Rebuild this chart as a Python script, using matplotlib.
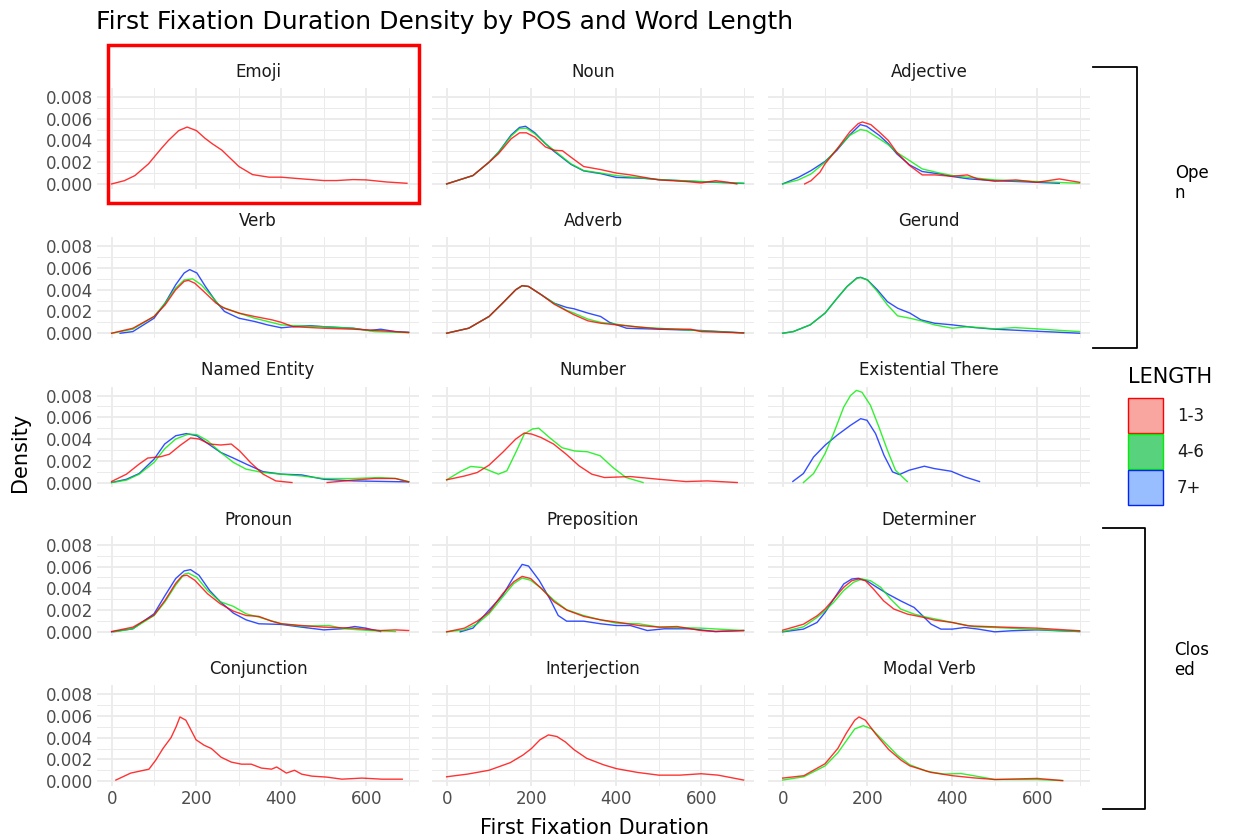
import numpy as np
import matplotlib.pyplot as plt
from matplotlib.lines import Line2D
from matplotlib.patches import Rectangle

plt.rcParams['font.family'] = ['DejaVu Sans']

# densities, y in units of 0.001
emoji = {
    "1-3": ([0, 30, 55, 87, 100, 118, 134, 158, 178, 200, 220, 237, 260, 277, 300, 332, 371, 400, 450, 500, 530, 569, 600, 648, 696],
            [0, 0.3, 0.77, 1.85, 2.46, 3.3, 4.0, 4.9, 5.23, 4.9, 4.2, 3.7, 3.1, 2.46, 1.6, 0.86, 0.62, 0.62, 0.46, 0.31, 0.31, 0.4, 0.37, 0.18, 0.06]),
}
noun = {
    "1-3": ([0, 62, 100, 122, 152, 172, 188, 208, 233, 253, 273, 293, 323, 363, 400, 433, 500, 564, 600, 634, 664, 684],
            [0, 0.77, 2.0, 2.77, 4.15, 4.7, 4.7, 4.3, 3.4, 3.1, 3.05, 2.46, 1.6, 1.32, 1.0, 0.83, 0.37, 0.22, 0.09, 0.3, 0.15, 0]),
    "4-6": ([0, 62, 100, 122, 152, 172, 188, 208, 233, 253, 293, 323, 363, 400, 500, 600, 700],
            [0, 0.77, 2.0, 2.9, 4.4, 5.1, 5.12, 4.6, 3.7, 3.1, 1.85, 1.23, 1.0, 0.77, 0.4, 0.22, 0.06]),
    "7+": ([0, 62, 100, 122, 152, 172, 186, 208, 233, 253, 293, 323, 363, 400, 463, 500, 600, 700],
           [0, 0.77, 2.0, 2.9, 4.5, 5.2, 5.3, 4.7, 3.7, 3.0, 1.8, 1.2, 0.95, 0.6, 0.52, 0.4, 0.2, 0.05]),
}
adjective = {
    "1-3": ([52, 67, 88, 100, 128, 158, 178, 188, 208, 228, 249, 269, 299, 329, 359, 400, 435, 460, 500, 550, 600, 652, 700],
            [0, 0.3, 1.08, 1.85, 3.2, 4.77, 5.54, 5.7, 5.45, 4.77, 4.0, 2.9, 1.7, 0.83, 0.83, 0.7, 0.83, 0.46, 0.25, 0.37, 0.15, 0.46, 0.15]),
    "4-6": ([0, 37, 67, 100, 128, 158, 183, 198, 228, 249, 269, 299, 329, 370, 400, 440, 500, 600, 700],
            [0, 0.37, 0.92, 2.0, 3.2, 4.46, 5.0, 4.9, 4.15, 3.6, 2.9, 2.15, 1.38, 1.0, 0.77, 0.6, 0.37, 0.22, 0.06]),
    "7+": ([0, 37, 67, 100, 128, 158, 183, 198, 228, 249, 269, 299, 329, 370, 400, 440, 500, 600, 652],
           [0, 0.6, 1.23, 2.07, 3.1, 4.5, 5.45, 5.3, 4.46, 3.7, 2.77, 1.75, 1.14, 0.92, 0.68, 0.46, 0.3, 0.15, 0.06]),
}
verb = {
    "1-3": ([0, 50, 100, 126, 151, 171, 181, 196, 221, 246, 266, 300, 337, 378, 400, 428, 500, 569, 631, 700],
            [0, 0.46, 1.54, 2.6, 4.0, 4.77, 4.86, 4.6, 3.7, 2.77, 2.3, 1.85, 1.54, 1.23, 1.0, 0.6, 0.46, 0.37, 0.25, 0.06]),
    "4-6": ([0, 50, 100, 126, 151, 171, 191, 211, 236, 256, 300, 337, 400, 428, 500, 569, 619, 700],
            [0, 0.37, 1.54, 2.77, 4.15, 4.9, 5.0, 4.46, 3.4, 2.46, 1.85, 1.38, 0.77, 0.7, 0.6, 0.46, 0.15, 0.06]),
    "7+": ([20, 50, 100, 126, 151, 171, 184, 201, 221, 246, 266, 300, 337, 367, 400, 428, 468, 500, 569, 609, 634, 669, 700],
           [0, 0.15, 1.38, 2.77, 4.46, 5.54, 5.85, 5.54, 4.3, 2.9, 2.0, 1.38, 1.08, 0.77, 0.5, 0.6, 0.7, 0.6, 0.46, 0.25, 0.37, 0.15, 0.09]),
}
adverb = {
    "1-3": ([0, 52, 100, 132, 163, 178, 193, 223, 253, 300, 333, 363, 400, 500, 575, 600, 700],
            [0, 0.46, 1.54, 2.77, 4.0, 4.37, 4.3, 3.54, 2.68, 1.7, 1.14, 0.92, 0.77, 0.4, 0.37, 0.15, 0.03]),
    "4-6": ([0, 52, 100, 132, 163, 178, 193, 223, 253, 283, 300, 333, 363, 400, 453, 500, 600, 700],
            [0, 0.46, 1.54, 2.77, 4.0, 4.37, 4.3, 3.54, 2.77, 2.1, 1.85, 1.3, 1.0, 0.83, 0.55, 0.46, 0.22, 0.03]),
    "7+": ([0, 52, 100, 132, 163, 178, 193, 223, 253, 283, 300, 333, 363, 384, 424, 500, 600, 700],
           [0, 0.46, 1.54, 2.77, 4.0, 4.37, 4.3, 3.54, 2.77, 2.37, 2.25, 1.85, 1.54, 1.0, 0.46, 0.37, 0.25, 0.03]),
}
gerund = {
    "4-6": ([0, 25, 65, 100, 128, 152, 175, 184, 200, 223, 247, 271, 300, 326, 358, 400, 437, 500, 547, 600, 658, 700],
            [0, 0.15, 0.77, 1.85, 3.2, 4.3, 5.05, 5.12, 4.9, 3.85, 2.6, 1.6, 1.38, 1.14, 0.77, 0.46, 0.6, 0.4, 0.52, 0.4, 0.25, 0.15]),
    "7+": ([0, 25, 65, 100, 128, 152, 175, 184, 200, 223, 247, 271, 300, 326, 358, 400, 453, 500, 579, 700],
           [0, 0.15, 0.77, 1.85, 3.2, 4.3, 5.08, 5.14, 4.9, 4.0, 2.9, 2.3, 1.85, 1.23, 0.92, 0.77, 0.52, 0.37, 0.22, 0]),
}
named_entity = {
    "1-3": ([0, 35, 65, 85, 115, 136, 161, 186, 206, 231, 257, 282, 302, 327, 357, 387, 425],
            [0.1, 0.77, 1.7, 2.25, 2.37, 2.6, 3.4, 4.1, 4.0, 3.54, 3.45, 3.54, 2.9, 1.85, 0.77, 0.15, 0]),
    "1-3 tail": ([508, 569, 619, 669, 700],
                 [0, 0.22, 0.37, 0.37, 0.06]),
    "4-6": ([0, 35, 65, 100, 125, 151, 181, 201, 226, 257, 287, 317, 357, 400, 448, 500, 569, 631, 669, 700],
            [0, 0.22, 0.77, 1.85, 3.1, 4.0, 4.46, 4.4, 3.85, 2.77, 1.85, 1.23, 0.92, 0.77, 0.6, 0.37, 0.37, 0.46, 0.37, 0.09]),
    "7+": ([0, 35, 65, 100, 125, 151, 176, 201, 226, 257, 287, 317, 357, 400, 448, 500, 569, 700],
           [0, 0.3, 0.83, 2.15, 3.54, 4.3, 4.5, 4.3, 3.6, 2.77, 2.25, 1.7, 1.0, 0.77, 0.7, 0.3, 0.15, 0.06]),
}
number = {
    "1-3": ([0, 42, 72, 100, 132, 163, 183, 200, 222, 252, 282, 312, 342, 372, 433, 500, 564, 614, 685],
            [0.25, 0.6, 0.92, 1.6, 2.77, 4.0, 4.55, 4.46, 4.15, 3.54, 2.6, 1.54, 0.77, 0.46, 0.55, 0.3, 0.09, 0.15, 0]),
    "4-6": ([0, 32, 57, 83, 122, 142, 163, 183, 202, 217, 242, 272, 302, 332, 362, 392, 423, 463],
            [0.25, 1.0, 1.48, 1.38, 0.77, 1.08, 2.77, 4.46, 4.92, 5.0, 4.15, 3.2, 2.9, 2.83, 2.46, 1.38, 0.46, 0]),
}
existential = {
    "4-6": ([49, 73, 100, 120, 144, 160, 174, 187, 207, 227, 247, 266, 282, 294],
            [0, 0.83, 2.66, 4.5, 6.94, 8.0, 8.47, 8.3, 7.1, 5.1, 2.97, 1.13, 0.52, 0.09]),
    "7+": ([24, 49, 73, 100, 128, 160, 184, 199, 219, 239, 259, 275, 298, 334, 358, 397, 429, 464],
           [0.1, 0.83, 2.35, 3.43, 4.34, 5.26, 5.87, 5.72, 4.5, 2.5, 0.98, 0.73, 1.13, 1.5, 1.28, 1.04, 0.52, 0.09]),
}
pronoun = {
    "1-3": ([0, 50, 100, 126, 151, 166, 178, 196, 226, 256, 287, 317, 347, 377, 400, 448, 500, 569, 634, 669, 700],
            [0.03, 0.43, 1.54, 2.9, 4.46, 5.14, 5.2, 4.74, 3.5, 2.58, 1.9, 1.5, 1.42, 0.98, 0.74, 0.58, 0.43, 0.34, 0.12, 0.18, 0.12]),
    "4-6": ([5, 50, 100, 126, 151, 171, 181, 201, 226, 256, 287, 317, 347, 400, 448, 513, 548, 609, 669],
            [0, 0.28, 1.5, 2.77, 4.3, 5.3, 5.4, 5.0, 3.8, 2.77, 2.34, 1.66, 1.35, 0.74, 0.52, 0.58, 0.28, 0.12, 0.03]),
    "7+": ([0, 50, 100, 126, 151, 171, 186, 206, 231, 256, 287, 317, 347, 400, 448, 500, 543, 573, 599, 634],
           [0, 0.28, 1.66, 3.35, 4.9, 5.6, 5.72, 5.2, 3.8, 2.77, 1.72, 1.1, 0.74, 0.68, 0.43, 0.18, 0.28, 0.49, 0.34, 0.03]),
}
preposition = {
    "1-3": ([0, 42, 72, 100, 132, 158, 178, 198, 223, 253, 283, 323, 363, 400, 453, 502, 543, 600, 634, 700],
            [0, 0.34, 0.98, 1.8, 3.5, 4.6, 5.1, 4.9, 4.0, 2.77, 2.0, 1.42, 1.1, 0.9, 0.58, 0.43, 0.49, 0.12, 0.03, 0.12]),
    "4-6": ([0, 42, 72, 100, 132, 158, 178, 198, 223, 253, 283, 323, 363, 400, 453, 502, 600, 700],
            [0, 0.18, 0.74, 1.66, 3.2, 4.43, 4.95, 4.74, 4.0, 2.9, 2.03, 1.5, 1.1, 0.8, 0.74, 0.43, 0.34, 0.12]),
    "7+": ([32, 62, 100, 132, 158, 178, 193, 218, 243, 263, 283, 323, 363, 400, 433, 473, 513, 574, 634, 700],
           [0, 0.34, 2.0, 3.35, 5.05, 6.2, 6.05, 4.74, 3.05, 1.5, 0.98, 0.98, 0.74, 0.58, 0.58, 0.12, 0.28, 0.28, 0.03, 0.12]),
}
determiner = {
    "1-3": ([0, 49, 81, 100, 120, 144, 163, 179, 195, 214, 238, 262, 294, 326, 358, 400, 437, 500, 547, 600, 700],
            [0.15, 0.7, 1.47, 2.1, 3.0, 4.1, 4.7, 4.86, 4.7, 3.94, 2.85, 2.1, 1.63, 1.38, 1.08, 0.86, 0.55, 0.46, 0.4, 0.34, 0.1]),
    "4-6": ([0, 49, 81, 100, 120, 144, 167, 187, 207, 231, 255, 278, 310, 342, 373, 400, 453, 500, 579, 700],
            [0, 0.46, 1.32, 1.94, 2.7, 3.8, 4.55, 4.86, 4.7, 4.1, 3.0, 2.1, 1.63, 1.32, 1.08, 0.86, 0.46, 0.4, 0.25, 0.03]),
    "7+": ([0, 49, 81, 100, 120, 144, 163, 179, 198, 222, 247, 278, 310, 326, 350, 373, 400, 429, 461, 500, 540, 600, 700],
           [0, 0.25, 0.86, 1.78, 3.0, 4.4, 4.86, 4.92, 4.7, 4.1, 3.5, 2.85, 2.24, 1.63, 0.7, 0.25, 0.25, 0.4, 0.25, 0, 0.1, 0.18, 0.03]),
}
conjunction = {
    "1-3": ([10, 45, 88, 104, 121, 140, 152, 161, 175, 187, 199, 218, 235, 258, 282, 306, 329, 353, 377, 389, 412, 431, 448, 472, 507, 543, 590, 637, 685],
            [0.1, 0.74, 1.1, 1.93, 3.0, 4.0, 5.0, 5.9, 5.6, 4.7, 3.8, 3.3, 3.0, 2.2, 1.75, 1.56, 1.56, 1.2, 1.1, 1.3, 0.74, 1.0, 0.64, 0.46, 0.37, 0.18, 0.28, 0.18, 0.18]),
}
interjection = {
    "1-3": ([0, 50, 100, 150, 180, 200, 220, 240, 260, 280, 300, 330, 370, 400, 450, 500, 550, 600, 640, 700],
            [0.4, 0.65, 1.0, 1.7, 2.4, 3.0, 3.8, 4.25, 4.1, 3.6, 2.9, 2.1, 1.5, 1.15, 0.8, 0.55, 0.55, 0.68, 0.55, 0.1]),
}
modal_verb = {
    "1-3": ([0, 50, 100, 130, 150, 170, 180, 195, 220, 250, 280, 300, 350, 400, 450, 500, 550, 600, 660],
            [0.28, 0.5, 1.6, 3.0, 4.4, 5.6, 5.9, 5.6, 4.3, 2.9, 1.9, 1.4, 0.8, 0.5, 0.3, 0.15, 0.2, 0.25, 0.05]),
    "4-6": ([0, 50, 100, 130, 150, 170, 190, 210, 240, 270, 300, 340, 380, 420, 450, 500, 550, 600, 660],
            [0.1, 0.4, 1.4, 2.6, 3.7, 4.8, 5.1, 4.8, 3.6, 2.4, 1.5, 0.9, 0.65, 0.7, 0.5, 0.15, 0.15, 0.15, 0.05]),
}

panel_titles = ["Emoji", "Noun", "Adjective", "Verb", "Adverb", "Gerund",
                "Named Entity", "Number", "Existential There",
                "Pronoun", "Preposition", "Determiner",
                "Conjunction", "Interjection", "Modal Verb"]
panel_data = [emoji, noun, adjective, verb, adverb, gerund,
              named_entity, number, existential,
              pronoun, preposition, determiner,
              conjunction, interjection, modal_verb]
lengths = ["1-3", "4-6", "7+"]
line_colors = {"1-3": "#FF0000", "4-6": "#00EE00", "7+": "#0022FF"}
fill_colors = {"1-3": "#F8766D", "4-6": "#00BA38", "7+": "#619CFF"}

W, H = 1234, 840
fig = plt.figure(figsize=(W / 100, H / 100), dpi=100)


def fx(px):
    return px / W


def fy(py):
    return 1 - py / H


col_left = [97, 432, 768]
panel_w = 322
panel_h = 100.5
row_top = [88 + r * 149.3 for r in range(5)]

for i, (title, data) in enumerate(zip(panel_titles, panel_data)):
    r, c = divmod(i, 3)
    ax = fig.add_axes([fx(col_left[c]), fy(row_top[r] + panel_h), panel_w / W, panel_h / H])
    ax.set_xlim(-34.5, 724.5)
    ax.set_ylim(-0.00042, 0.00882)
    ax.set_xticks([0, 200, 400, 600])
    ax.set_xticks([100, 300, 500, 700], minor=True)
    ax.set_yticks([0, 0.002, 0.004, 0.006, 0.008])
    ax.set_yticks([0.001, 0.003, 0.005, 0.007], minor=True)
    ax.grid(True, which='major', color='#EBEBEB', linewidth=1.3)
    ax.grid(True, which='minor', color='#EBEBEB', linewidth=0.7)
    ax.set_axisbelow(True)
    for s in ax.spines.values():
        s.set_visible(False)
    ax.tick_params(which='both', length=0, labelsize=12, colors='#4D4D4D', pad=3)
    if r == 4:
        ax.set_xticklabels(["0", "200", "400", "600"])
    else:
        ax.set_xticklabels([])
    if c == 0:
        ax.set_yticklabels(["0.000", "0.002", "0.004", "0.006", "0.008"])
    else:
        ax.set_yticklabels([])
    ax.set_title(title, fontsize=12, color='#1A1A1A', pad=8)
    # longer words first, so the 1-3 line ends up on top
    for key in sorted(data.keys(), key=lambda k: -lengths.index(k.split()[0])):
        xs, ys = data[key]
        grp = key.split()[0]
        ax.plot(xs, np.array(ys) * 1e-3, color=line_colors[grp], alpha=0.8, linewidth=1.0)

fig.text(fx(96), fy(22), "First Fixation Duration Density by POS and Word Length",
         fontsize=18, ha='left', va='center', color='black')
fig.text(fx(594), fy(828), "First Fixation Duration", fontsize=15, ha='center', va='center')
fig.text(fx(20), fy(452), "Density", fontsize=15, ha='center', va='center', rotation=90)

# legend
fig.text(fx(1128), fy(377), "LENGTH", fontsize=15, ha='left', va='center')
for k, grp in enumerate(lengths):
    top = 398 + k * 36
    fig.add_artist(Rectangle((fx(1128), fy(top + 35)), 35 / W, 35 / H,
                             facecolor=fill_colors[grp], alpha=0.65, edgecolor='none',
                             transform=fig.transFigure))
    fig.add_artist(Rectangle((fx(1128), fy(top + 35)), 35 / W, 35 / H,
                             facecolor='none', edgecolor=line_colors[grp], linewidth=1.0,
                             transform=fig.transFigure))
    fig.text(fx(1177), fy(top + 18), grp, fontsize=12, ha='left', va='center', color='#1A1A1A')


def bracket(x0, x1, y0, y1):
    xs = [fx(x0), fx(x1), fx(x1), fx(x0)]
    ys = [fy(y0), fy(y0), fy(y1), fy(y1)]
    fig.add_artist(Line2D(xs, ys, color='black', linewidth=1.3, transform=fig.transFigure))


bracket(1093, 1137, 67, 348)
bracket(1103, 1145, 528, 809)
fig.text(fx(1175), fy(183), "Ope\nn", fontsize=12, ha='left', va='center', linespacing=1.1)
fig.text(fx(1174), fy(660), "Clos\ned", fontsize=12, ha='left', va='center', linespacing=1.1)

# highlight box around the first panel
fig.add_artist(Rectangle((fx(108), fy(203)), (419 - 108) / W, (203 - 45) / H,
                         facecolor='none', edgecolor='#FF0000', linewidth=2.5,
                         transform=fig.transFigure))

fig.savefig("out.png", dpi=100)
